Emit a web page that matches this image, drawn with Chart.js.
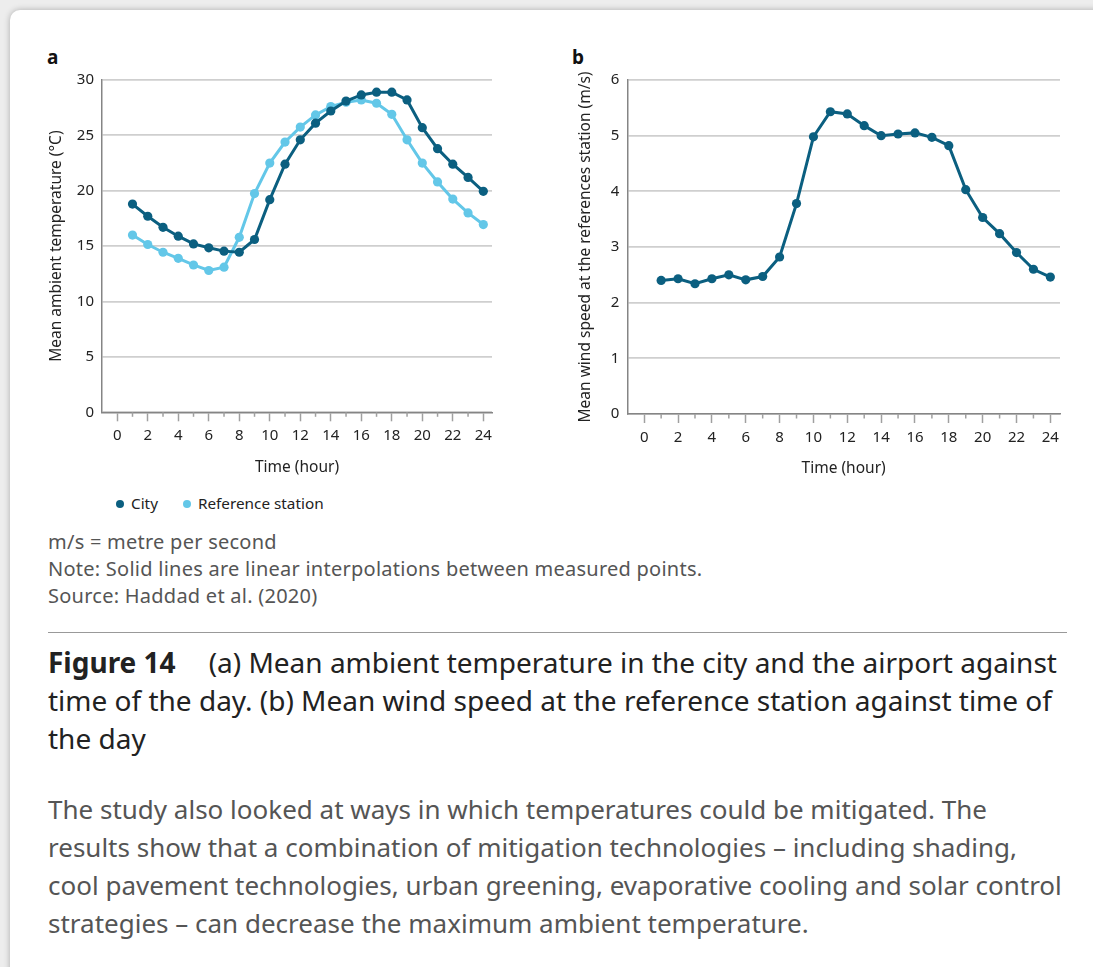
<!DOCTYPE html>
<html>
<head>
<meta charset="utf-8">
<script src="https://cdn.jsdelivr.net/npm/chart.js@4/dist/chart.umd.min.js"></script>
<style>
    html, body { margin: 0; padding: 0; }
    body {
        width: 1093px; height: 967px; overflow: hidden;
        background: #ededed; position: relative;
        font-family: "Noto Sans", sans-serif;
    }
    .card {
        position: absolute; left: 10px; top: 10px; width: 1120px; height: 1000px;
        background: #fff; border-radius: 10px;
        box-shadow: 0 0 6px rgba(0, 0, 0, 0.28);
    }
    .panel-label { position: absolute; font-weight: bold; font-size: 19px; line-height: 20px; color: #111; }
    .chart-box { position: absolute; }
    .legend { position: absolute; left: 116px; top: 493px; font-size: 15.3px; line-height: 20px; color: #222; white-space: nowrap; }
    .legend span.item { margin-right: 21px; }
    .legend span.dot {
        display: inline-block; width: 8px; height: 8px; border-radius: 50%;
        margin-right: 7px; vertical-align: 1px;
    }
    .notes {
        position: absolute; left: 48px; top: 528px; font-size: 20px; letter-spacing: 0.25px;
        line-height: 27px; color: #555; white-space: nowrap;
    }
    .rule { position: absolute; left: 48px; top: 632px; width: 1019px; height: 0; border-top: 1.5px solid #999; }
    .caption {
        position: absolute; left: 48px; top: 643px; font-size: 28px;
        line-height: 38px; color: #222; white-space: nowrap;
    }
    .caption b { margin-right: 33px; }
    .body-text {
        position: absolute; left: 48px; top: 790px; font-size: 26px;
        line-height: 38px; color: #555; white-space: nowrap;
    }
</style>
</head>
<body>
<div class="card"></div>

<div class="panel-label" style="left:47px; top:47px;">a</div>
<div class="panel-label" style="left:572px; top:47px;">b</div>

<div class="chart-box" style="left:40px; top:62.7px; width:460px; height:427.3px;">
    <canvas id="tempChart"></canvas>
</div>
<div class="chart-box" style="left:570px; top:62.7px; width:500px; height:432.3px;">
    <canvas id="windChart"></canvas>
</div>

<div class="legend">
    <span class="item"><span class="dot" style="background:#0b5f80"></span>City</span>
    <span class="item"><span class="dot" style="background:#63c7e8"></span>Reference station</span>
</div>

<div class="notes">
    m/s = metre per second<br>
    Note: Solid lines are linear interpolations between measured points.<br>
    Source: Haddad et al. (2020)
</div>

<div class="rule"></div>

<div class="caption">
    <b>Figure 14</b>(a) Mean ambient temperature in the city and the airport against<br>
    time of the day. (b) Mean wind speed at the reference station against time of<br>
    the day
</div>

<div class="body-text">
    The study also looked at ways in which temperatures could be mitigated. The<br>
    results show that a combination of mitigation technologies – including shading,<br>
    cool pavement technologies, urban greening, evaporative cooling and solar control<br>
    strategies – can decrease the maximum ambient temperature.
</div>

<script>
// Data
const hours = [1, 2, 3, 4, 5, 6, 7, 8, 9, 10, 11, 12, 13, 14, 15, 16, 17, 18, 19, 20, 21, 22, 23, 24];
const cityTemp = [18.8, 17.7, 16.7, 15.9, 15.2, 14.85, 14.55, 14.45, 15.6, 19.2, 22.4, 24.6, 26.1, 27.2, 28.1, 28.65, 28.9, 28.9, 28.2, 25.7, 23.8, 22.4, 21.2, 19.95];
const refTemp = [16.0, 15.15, 14.45, 13.9, 13.3, 12.8, 13.1, 15.8, 19.75, 22.5, 24.4, 25.75, 26.85, 27.6, 28.0, 28.2, 27.9, 26.9, 24.6, 22.5, 20.8, 19.25, 18.0, 16.95];
const windSpeed = [2.40, 2.43, 2.34, 2.43, 2.50, 2.41, 2.47, 2.82, 3.78, 4.98, 5.43, 5.39, 5.18, 5.00, 5.03, 5.05, 4.97, 4.82, 4.03, 3.53, 3.24, 2.90, 2.60, 2.46];

const hourTicks = [0, 2, 4, 6, 8, 10, 12, 14, 16, 18, 20, 22, 24];
const minorHourTicks = [1, 3, 5, 7, 9, 11, 13, 15, 17, 19, 21, 23];
const tempTicks = [0, 5, 10, 15, 20, 25, 30];
const windTicks = [0, 1, 2, 3, 4, 5, 6];

const cityColor = '#0b5f80';
const refColor = '#63c7e8';
const gridColor = '#cfcfcf';
const axisColor = '#858585';
const textColor = '#222';

Chart.defaults.font.family = '"Noto Sans", sans-serif';
Chart.defaults.font.size = 15;
Chart.defaults.color = textColor;

function toPoints(values) {
    return values.map((v, i) => ({ x: hours[i], y: v }));
}

// short ticks at the odd hours
const minorTickPlugin = {
    id: 'minorTicks',
    afterDraw(chart) {
        const xs = chart.scales.x;
        const ctx = chart.ctx;
        ctx.save();
        ctx.strokeStyle = '#a0a0a0';
        ctx.lineWidth = 1.5;
        minorHourTicks.forEach(h => {
            const px = xs.getPixelForValue(h);
            ctx.beginPath();
            ctx.moveTo(px, xs.top);
            ctx.lineTo(px, xs.top + 4.5);
            ctx.stroke();
        });
        ctx.restore();
    }
};

function lineDataset(label, values, color) {
    return {
        label: label,
        data: toPoints(values),
        borderColor: color,
        backgroundColor: color,
        borderWidth: 3,
        pointRadius: 4.6,
        pointBackgroundColor: color,
        pointBorderWidth: 0,
        tension: 0
    };
}

function makeOptions(yTicks, yTitle, yWidth, yTitlePad, xHeight, xTitlePad, rightPad) {
    return {
        responsive: true,
        maintainAspectRatio: false,
        animation: false,
        layout: { padding: { top: 2.4, right: rightPad, left: 0, bottom: 0 } },
        plugins: { legend: { display: false }, tooltip: { enabled: false } },
        scales: {
            x: {
                type: 'linear',
                min: -1,
                max: 24.57,
                afterBuildTicks: axis => { axis.ticks = hourTicks.map(v => ({ value: v })); },
                afterFit: axis => { axis.height = xHeight; },
                grid: {
                    drawOnChartArea: false,
                    drawTicks: true,
                    tickLength: 9,
                    tickColor: '#a0a0a0',
                    tickWidth: 1.5
                },
                border: { display: true, color: axisColor, width: 1.5 },
                ticks: { padding: 5.5, maxRotation: 0, color: textColor, font: { size: 15 } },
                title: {
                    display: true, text: 'Time (hour)', color: textColor,
                    font: { size: 15.5 }, padding: { top: 0, bottom: xTitlePad }
                }
            },
            y: {
                min: yTicks[0],
                max: yTicks[yTicks.length - 1],
                afterBuildTicks: axis => { axis.ticks = yTicks.map(v => ({ value: v })); },
                afterFit: axis => { axis.width = yWidth; },
                grid: { color: gridColor, lineWidth: 1.8, drawTicks: false },
                border: { display: true, color: axisColor, width: 1.5 },
                ticks: { padding: 8, color: textColor, font: { size: 15 } },
                title: {
                    display: true, text: yTitle, color: textColor,
                    font: { size: 15.5 }, padding: { top: yTitlePad, bottom: 0 }
                }
            }
        }
    };
}

function createTemperatureChart() {
    const ctx = document.getElementById('tempChart').getContext('2d');
    new Chart(ctx, {
        type: 'line',
        data: {
            datasets: [
                lineDataset('City', cityTemp, cityColor),
                lineDataset('Reference station', refTemp, refColor)
            ]
        },
        options: makeOptions(tempTicks, 'Mean ambient temperature (°C)', 62, 7.7, 78, 13.7, 8),
        plugins: [minorTickPlugin]
    });
}

function createWindChart() {
    const ctx = document.getElementById('windChart').getContext('2d');
    new Chart(ctx, {
        type: 'line',
        data: {
            datasets: [lineDataset('Wind speed', windSpeed, cityColor)]
        },
        options: makeOptions(windTicks, 'Mean wind speed at the references station (m/s)', 57.3, 6.7, 81.3, 17, 10),
        plugins: [minorTickPlugin]
    });
}

createTemperatureChart();
createWindChart();
</script>
</body>
</html>
